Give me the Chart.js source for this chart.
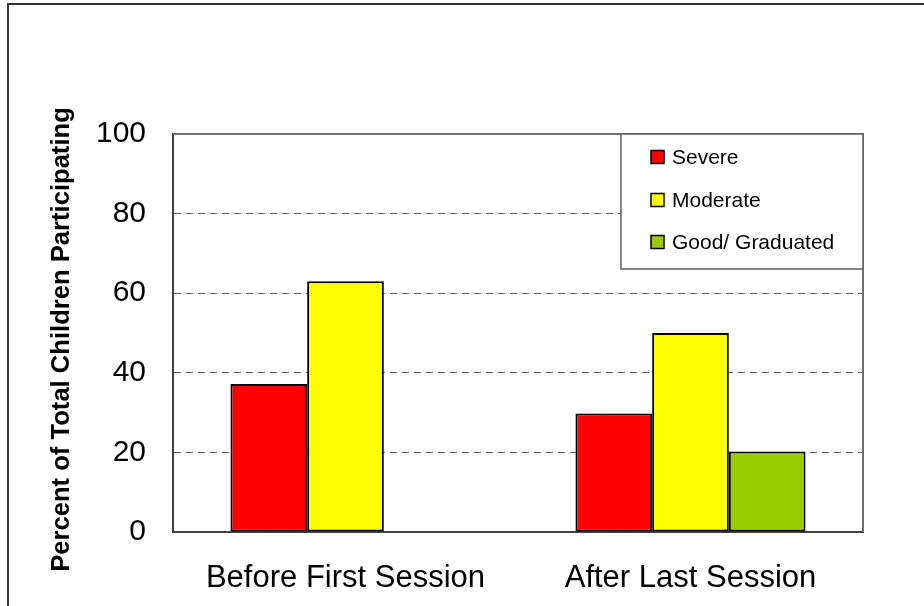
<!DOCTYPE html>
<html>
<head>
<meta charset="utf-8">
<script src="https://cdn.jsdelivr.net/npm/chart.js@4/dist/chart.umd.min.js"></script>
<style>
  html, body { margin: 0; padding: 0; background: #ffffff; }
  #wrap { width: 924px; height: 606px; }
</style>
</head>
<body>
<div id="wrap"><canvas id="chart" width="924" height="606"></canvas></div>
<script>
// Categories and series values (percent of children)
const categories = ['Before First Session', 'After Last Session'];
const severe = [37.2, 29.8];
const moderate = [63, 50];
const goodGraduated = [null, 20.2];
const yTicks = [0, 20, 40, 60, 80, 100];
const yTitle = 'Percent of Total Children Participating';

const FONT = '"Liberation Sans", Arial, sans-serif';

// White page with the outer frame
const framePlugin = {
  id: 'frame',
  beforeDraw(chart) {
    const c = chart.ctx;
    c.save();
    c.fillStyle = '#ffffff';
    c.fillRect(0, 0, chart.width, chart.height);
    c.strokeStyle = '#333333';
    c.lineWidth = 2;
    c.strokeRect(8, 4, chart.width + 20, chart.height + 20);
    c.restore();
  }
};

// Top and right edges of the plot box, rotated axis title and boxed legend
const decorPlugin = {
  id: 'decor',
  afterDraw(chart) {
    const c = chart.ctx;
    const a = chart.chartArea;
    c.save();
    c.strokeStyle = '#707070';
    c.lineWidth = 2;
    c.beginPath();
    c.moveTo(a.left, a.top);
    c.lineTo(a.right, a.top);
    c.lineTo(a.right, a.bottom);
    c.stroke();

    // y axis title
    c.save();
    c.translate(62, 339.5);
    c.rotate(-Math.PI / 2);
    c.font = 'bold 25.6px ' + FONT;
    c.fillStyle = '#000000';
    c.textAlign = 'center';
    c.textBaseline = 'middle';
    c.fillText(yTitle, 0, 0);
    c.restore();

    // legend box
    const lx = 621, ly = a.top, lw = a.right - 621, lh = 135;
    c.fillStyle = '#ffffff';
    c.fillRect(lx, ly, lw, lh);
    c.strokeStyle = '#606060';
    c.lineWidth = 1.5;
    c.strokeRect(lx, ly, lw, lh);
    const rows = [157, 200, 242];
    chart.data.datasets.forEach((ds, i) => {
      const y = rows[i];
      c.fillStyle = ds.backgroundColor;
      c.fillRect(651, y - 6.5, 13, 13);
      c.strokeStyle = '#000000';
      c.lineWidth = 1.5;
      c.strokeRect(651, y - 6.5, 13, 13);
      c.fillStyle = '#000000';
      c.font = '21px ' + FONT;
      c.textAlign = 'left';
      c.textBaseline = 'middle';
      c.fillText(ds.label, 672, y + 1);
    });
    c.restore();
  }
};

const barStyle = { borderColor: '#000000', borderWidth: 2, borderSkipped: false };

new Chart(document.getElementById('chart'), {
  type: 'bar',
  data: {
    labels: categories,
    datasets: [
      Object.assign({ label: 'Severe', data: severe, backgroundColor: '#FF0000' }, barStyle),
      Object.assign({ label: 'Moderate', data: moderate, backgroundColor: '#FFFF00' }, barStyle),
      Object.assign({ label: 'Good/ Graduated', data: goodGraduated, backgroundColor: '#99CC00' }, barStyle)
    ]
  },
  options: {
    responsive: false,
    animation: false,
    devicePixelRatio: 1,
    layout: { padding: { top: 134, right: 61, left: 0, bottom: 0 } },
    datasets: { bar: { categoryPercentage: 0.667, barPercentage: 1.0 } },
    plugins: {
      legend: { display: false },
      tooltip: { enabled: false },
      title: { display: false }
    },
    scales: {
      x: {
        grid: { display: false, drawTicks: false },
        border: { display: true, color: '#404040', width: 2 },
        ticks: {
          padding: 28,
          color: '#000000',
          font: { family: FONT, size: 31 },
          maxRotation: 0,
          autoSkip: false
        },
        afterFit(scale) { scale.height = 74; }
      },
      y: {
        min: 0,
        max: 100,
        afterBuildTicks(scale) { scale.ticks = yTicks.map(v => ({ value: v })); },
        grid: {
          drawTicks: false,
          lineWidth: 1,
          color: (ctx) => (ctx.tick && (ctx.tick.value === 0 || ctx.tick.value === 100)) ? 'rgba(0,0,0,0)' : '#606060'
        },
        border: { display: true, color: '#404040', width: 2, dash: [7, 5] },
        ticks: {
          padding: 27,
          color: '#000000',
          font: { family: FONT, size: 30 }
        },
        afterFit(scale) { scale.width = 173; }
      }
    }
  },
  plugins: [framePlugin, decorPlugin]
});
</script>
</body>
</html>
